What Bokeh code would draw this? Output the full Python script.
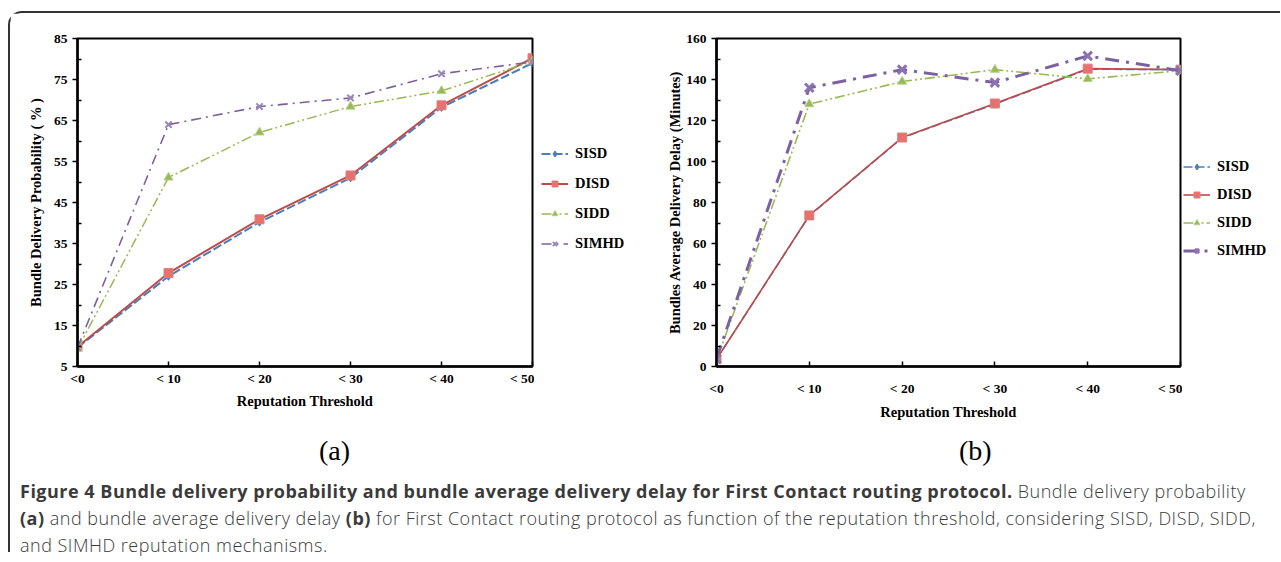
from bokeh.plotting import figure
from bokeh.models import Range1d, FixedTicker, Legend, LegendItem, Div, Spacer
from bokeh.layouts import row, column
from bokeh.embed import file_html
from bokeh.resources import INLINE

# ---------------- data ----------------
thresholds = ["<0", "< 10", "< 20", "< 30", "< 40", "< 50"]
x_pos = list(range(len(thresholds)))

prob_sisd = [9.6, 27.0, 40.2, 51.0, 68.2, 79.0]
prob_disd = [9.8, 27.8, 40.9, 51.6, 68.7, 80.2]
prob_sidd = [9.3, 51.1, 62.1, 68.4, 72.2, 79.4]
prob_simhd = [9.6, 64.0, 68.4, 70.5, 76.4, 79.3]

delay_sisd = [3.5, 73.5, 111.5, 128.0, 145.0, 144.8]
delay_disd = [3.5, 73.7, 111.7, 128.3, 145.3, 144.8]
delay_sidd = [3.0, 128.0, 139.0, 144.8, 140.3, 144.3]
delay_simhd = [3.8, 136.0, 144.8, 138.5, 151.5, 144.3]

prob_major = [5, 15, 25, 35, 45, 55, 65, 75, 85]
prob_minor = [10, 20, 30, 40, 50, 60, 70, 80]
delay_major = [0, 20, 40, 60, 80, 100, 120, 140, 160]
delay_minor = [10, 30, 50, 70, 90, 110, 130, 150]

series_names = ["SISD", "DISD", "SIDD", "SIMHD"]
panel_tags = ["(a)", "(b)"]

SERIF = "Liberation Serif"
H = 421


def style_axes(p, ymajor, yminor, ylabel, ystand, xstand, xtitle_stand):
    p.xaxis.ticker = FixedTicker(ticks=x_pos)
    p.xaxis.major_label_overrides = {i: t for i, t in zip(x_pos, thresholds)}
    p.yaxis.ticker = FixedTicker(ticks=ymajor, minor_ticks=yminor)
    for ax in (p.xaxis[0], p.yaxis[0]):
        ax.axis_line_width = 2.5
        ax.axis_line_color = "black"
        ax.major_tick_line_color = "black"
        ax.major_tick_line_width = 1.5
        ax.minor_tick_line_color = "black"
        ax.minor_tick_line_width = 1.5
        ax.major_label_text_font = SERIF
        ax.major_label_text_font_style = "bold"
        ax.major_label_text_font_size = "13.5px"
        ax.major_label_text_color = "black"
        ax.axis_label_text_font = SERIF
        ax.axis_label_text_font_style = "bold"
        ax.axis_label_text_font_size = "14.5px"
        ax.axis_label_text_color = "black"
    p.yaxis.major_tick_out = 5
    p.yaxis.major_tick_in = 0
    p.yaxis.minor_tick_in = 4
    p.yaxis.minor_tick_out = 0
    p.yaxis.major_label_standoff = 5
    p.yaxis.axis_label = ylabel
    p.yaxis.axis_label_standoff = ystand
    p.xaxis.major_tick_in = 5
    p.xaxis.major_tick_out = 0
    p.xaxis.minor_tick_line_color = None
    p.xaxis.major_label_standoff = xstand
    p.xaxis.axis_label = "Reputation Threshold"
    p.xaxis.axis_label_standoff = xtitle_stand
    p.xgrid.visible = False
    p.ygrid.visible = False
    p.outline_line_color = "black"
    p.outline_line_width = 2
    p.outline_line_alpha = 1


def draw_series(p, data, styles):
    out = []
    for vals, st in zip(data, styles):
        ln = p.line(x_pos, vals, line_color=st["color"], line_width=st["lw"],
                    line_dash=st["dash"])
        sc = p.scatter(x_pos, vals, marker=st["marker"], size=st["size"],
                       fill_color=st["fill"], line_color=st["mline"],
                       line_width=st["mlw"])
        out.append((ln, sc))
    return out


def make_chart(data, ymin, ymax, ymajor, yminor, ylabel, styles, w,
               bl, bt, bb, ystand, xstand, xtitle_stand):
    p = figure(width=w, height=H, min_border_left=bl,
               min_border_right=2, min_border_top=bt, min_border_bottom=bb,
               x_range=Range1d(0, 5), y_range=Range1d(ymin, ymax),
               output_backend="svg", toolbar_location=None,
               background_fill_color="white", border_fill_color="white")
    style_axes(p, ymajor, yminor, ylabel, ystand, xstand, xtitle_stand)
    draw_series(p, data, styles)
    return p


def make_legend(data, styles, w, top_gap, margin, spacing):
    # a legend-only panel: same series drawn outside its visible ranges
    lf = figure(width=w, height=120, min_border=0, min_border_left=0,
                min_border_right=0, min_border_top=0, min_border_bottom=0,
                x_range=Range1d(-3, -2), y_range=Range1d(-3, -2),
                x_axis_location=None, y_axis_location=None,
                output_backend="svg", toolbar_location=None,
                background_fill_color="white", border_fill_color="white",
                outline_line_color=None)
    lf.xgrid.visible = False
    lf.ygrid.visible = False
    rends = draw_series(lf, data, styles)
    items = [LegendItem(label=n, renderers=[ln, sc])
             for n, (ln, sc) in zip(series_names, rends)]
    leg = Legend(items=items, location="top_left", border_line_color=None,
                 background_fill_alpha=0, margin=margin, padding=5,
                 spacing=spacing, glyph_width=27, glyph_height=15,
                 label_height=15, label_standoff=7,
                 label_text_font=SERIF, label_text_font_style="bold",
                 label_text_font_size="14.5px", label_text_color="black")
    lf.add_layout(leg, "center")
    return column(Spacer(width=w, height=top_gap), lf)


BLUE, RED, GREEN, PURPLE = "#4a7ebb", "#be4b48", "#98b954", "#7d60a0"

styles_a = [
    dict(color=BLUE, lw=2, dash="9 3", marker="diamond", size=8, fill=BLUE, mline=BLUE, mlw=1),
    dict(color=RED, lw=2, dash="solid", marker="square", size=9, fill="#e8716d", mline="#d9827f", mlw=1),
    dict(color=GREEN, lw=1.5, dash="10 3 2 3 2 3", marker="triangle", size=9, fill=GREEN, mline="#b5d08a", mlw=1),
    dict(color=PURPLE, lw=1.6, dash="10 5 2 5", marker="x", size=9, fill=PURPLE, mline="#9a86b8", mlw=2),
]
styles_b = [
    dict(color=BLUE, lw=1.5, dash="9 3", marker="diamond", size=8, fill=BLUE, mline=BLUE, mlw=1),
    dict(color=RED, lw=1.6, dash="solid", marker="square", size=9, fill="#e8716d", mline="#d9827f", mlw=1),
    dict(color=GREEN, lw=1.6, dash="10 3 2 3 2 3", marker="triangle", size=9, fill=GREEN, mline="#b5d08a", mlw=1),
    dict(color=PURPLE, lw=3, dash="14 7 3 7", marker="x", size=12, fill=PURPLE, mline="#8c72b0", mlw=3),
]

data_a = [prob_sisd, prob_disd, prob_sidd, prob_simhd]
data_b = [delay_sisd, delay_disd, delay_sidd, delay_simhd]

pa = make_chart(data_a, 5, 85, prob_major, prob_minor,
                "Bundle Delivery Probability ( % )", styles_a, 524,
                67, 24, 57, 7, 4, 4)
la = make_legend(data_a, styles_a, 114, 125, 7, 13)
pb = make_chart(data_b, 0, 160, delay_major, delay_minor,
                "Bundles Average Delivery Delay (Minutes)", styles_b, 534,
                68, 25, 68, 0, 14, 5)
lb = make_legend(data_b, styles_b, 98, 144, 1, 11)

tags = Div(
    text=(
        "<div style=\"position:relative;height:34px;font-family:'Liberation Serif';"
        "font-size:28px;line-height:34px;color:black;\">"
        f"<span style='position:absolute;left:309px;top:0'>{panel_tags[0]}</span>"
        f"<span style='position:absolute;left:949px;top:0'>{panel_tags[1]}</span></div>"
    ),
    width=1270, height=34, margin=(0, 0, 0, 0),
)

caption = Div(
    text=(
        "<div style=\"font-family:'Open Sans';font-size:18px;line-height:27px;"
        "letter-spacing:0.5px;white-space:nowrap;color:#3a3a3a;\">"
        "<span style='font-weight:700'>Figure 4 Bundle delivery probability and bundle average "
        "delivery delay for First Contact routing protocol.</span> "
        "<span style='font-weight:300'>Bundle delivery probability</span><br>"
        "<span style='font-weight:700'>(a)</span> <span style='font-weight:300'>and bundle average "
        "delivery delay</span> <span style='font-weight:700'>(b)</span> "
        "<span style='font-weight:300'>for First Contact routing protocol as function of the "
        "reputation threshold, considering SISD, DISD, SIDD,</span><br>"
        "<span style='font-weight:300'>and SIMHD reputation mechanisms.</span></div>"
    ),
    width=1255, height=74, margin=(10, 0, 0, 10),
)

layout = column(
    row(pa, la, pb, lb), tags, caption,
    margin=(11, 0, 0, 8),
    styles={"border-left": "2px solid #333", "border-top": "2px solid #333",
            "border-top-left-radius": "14px"},
)

open("out.html", "w").write(file_html(layout, INLINE))
